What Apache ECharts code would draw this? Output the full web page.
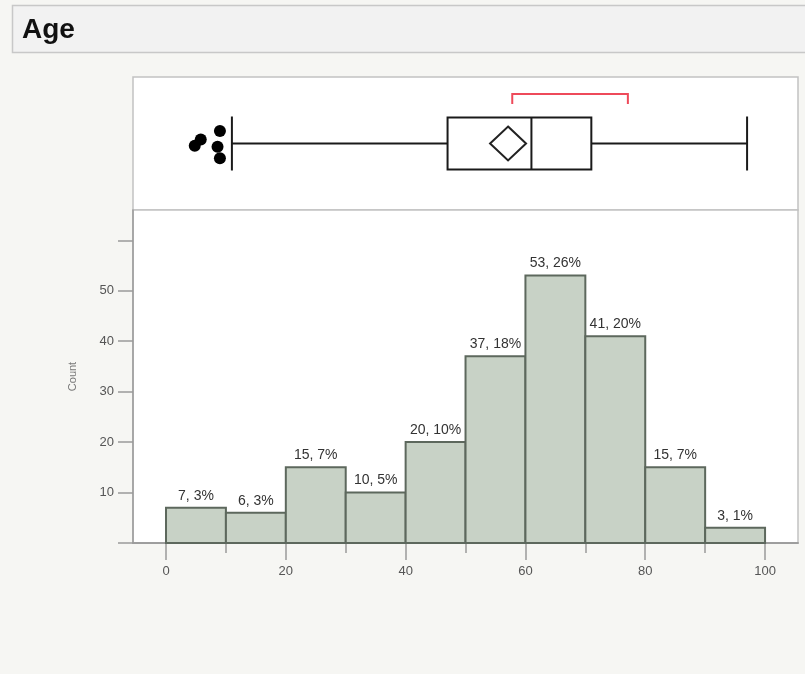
<!DOCTYPE html>
<html><head><meta charset="utf-8">
<script src="https://cdn.jsdelivr.net/npm/echarts@6/dist/echarts.min.js"></script>
<style>html,body{margin:0;padding:0;background:#f6f6f3;}#c{width:805px;height:674px;}</style>
</head><body><div id="c"></div>
<script>
// ---- data ----
const binEdges = [0, 10, 20, 30, 40, 50, 60, 70, 80, 90, 100];
const counts = [7, 6, 15, 10, 20, 37, 53, 41, 15, 3];
const percents = [3, 3, 7, 5, 10, 18, 26, 20, 7, 1];
const xTickValues = [0, 20, 40, 60, 80, 100];
const xMinorTickValues = [10, 30, 50, 70, 90];
const yTickValues = [0, 10, 20, 30, 40, 50, 60];
const yLabelValues = [10, 20, 30, 40, 50];
// box plot: lower whisker, Q1, median, Q3, upper whisker
const boxStats = [11, 47, 61, 71, 97];
const meanValue = [57.1];
const shortestHalf = [57.8, 77.1];
const outlierX = [4.8, 5.8, 8.6, 9.0, 9.0];
const outlierJitter = [0.483, 0.530, 0.476, 0.594, 0.389];
const boxRow = 0.5;

const X_MIN = -5.51, X_MAX = 105.5;
const FONT = 'Liberation Sans, Arial, sans-serif';
const NARROW = 'Liberation Sans Narrow, Arial Narrow, Liberation Sans, sans-serif';

const chart = echarts.init(document.getElementById('c'), null, {renderer: 'canvas'});

const histData = counts.map((c, i) => [binEdges[i], binEdges[i + 1], c, percents[i]]);

const option = {
  backgroundColor: '#f6f6f3',
  animation: false,
  title: {
    text: 'Age', left: 17, top: 11,
    textStyle: {fontFamily: FONT, fontSize: 28, fontWeight: 'bold', color: '#111'}
  },
  graphic: [{
    type: 'rect', z: -10, silent: true,
    shape: {x: 12.5, y: 5.5, width: 800, height: 47},
    style: {fill: '#f2f2f2', stroke: '#c8c8c8', lineWidth: 1.5}
  }],
  grid: [
    {left: 133, right: 7, top: 77, height: 133, show: true, backgroundColor: '#ffffff', borderColor: '#c2c2c2', borderWidth: 1.5},
    {left: 133, right: 7, top: 210, height: 333, show: true, backgroundColor: '#ffffff', borderColor: '#c2c2c2', borderWidth: 1.5}
  ],
  xAxis: [
    {gridIndex: 0, type: 'value', min: X_MIN, max: X_MAX, show: false},
    {gridIndex: 1, type: 'value', position: 'bottom', min: X_MIN, max: X_MAX,
      axisLine: {show: true, onZero: false, lineStyle: {color: '#9a9a9a', width: 1.5}},
      axisTick: {show: true, customValues: xTickValues, length: 17, lineStyle: {color: '#9a9a9a', width: 1.5}},
      axisLabel: {show: true, customValues: xTickValues, margin: 22, fontFamily: NARROW, fontSize: 13, color: '#555'},
      splitLine: {show: false}},
    {gridIndex: 1, type: 'value', position: 'bottom', min: X_MIN, max: X_MAX,
      axisLine: {show: true, onZero: false, lineStyle: {color: '#9a9a9a', width: 1.5}},
      axisTick: {show: true, customValues: xMinorTickValues, length: 10, lineStyle: {color: '#9a9a9a', width: 1.5}},
      axisLabel: {show: false},
      splitLine: {show: false}}
  ],
  yAxis: [
    {gridIndex: 0, type: 'value', min: 0, max: 1, show: false},
    {gridIndex: 1, type: 'value', position: 'left', min: 0, max: 66,
      name: 'Count', nameLocation: 'middle', nameGap: 55, nameRotate: 90,
      nameTextStyle: {fontFamily: FONT, fontSize: 11, color: '#777'},
      axisLine: {show: true, onZero: false, lineStyle: {color: '#9a9a9a', width: 1.5}},
      axisTick: {show: true, customValues: yTickValues, length: 15, lineStyle: {color: '#9a9a9a', width: 1.5}},
      axisLabel: {show: true, customValues: yLabelValues, margin: 19, fontFamily: NARROW, fontSize: 13, color: '#555'},
      splitLine: {show: false}}
  ],
  series: [
    {
      type: 'custom', xAxisIndex: 1, yAxisIndex: 1, data: histData,
      renderItem: function (params, api) {
        const p0 = api.coord([api.value(0), 0]);
        const p1 = api.coord([api.value(1), api.value(2)]);
        return {
          type: 'group',
          children: [
            {type: 'rect', shape: {x: p0[0], y: p1[1], width: p1[0] - p0[0], height: p0[1] - p1[1]},
              style: {fill: '#c8d2c6', stroke: '#5d685d', lineWidth: 2}},
            {type: 'text', x: (p0[0] + p1[0]) / 2, y: p1[1] - 5,
              style: {text: api.value(2) + ', ' + api.value(3) + '%', fill: '#333', font: '14px ' + FONT,
                align: 'center', verticalAlign: 'bottom'}}
          ]
        };
      }
    },
    {
      type: 'custom', xAxisIndex: 0, yAxisIndex: 0, data: [boxStats.concat([boxRow])],
      renderItem: function (params, api) {
        const y = api.value(5);
        const lo = api.coord([api.value(0), y]);
        const q1 = api.coord([api.value(1), y]);
        const md = api.coord([api.value(2), y]);
        const q3 = api.coord([api.value(3), y]);
        const hi = api.coord([api.value(4), y]);
        const cy = lo[1], h = 26, cap = 27;
        const st = {stroke: '#1a1a1a', lineWidth: 2, fill: null};
        return {
          type: 'group',
          children: [
            {type: 'line', shape: {x1: lo[0], y1: cy, x2: q1[0], y2: cy}, style: st},
            {type: 'line', shape: {x1: q3[0], y1: cy, x2: hi[0], y2: cy}, style: st},
            {type: 'line', shape: {x1: lo[0], y1: cy - cap, x2: lo[0], y2: cy + cap}, style: st},
            {type: 'line', shape: {x1: hi[0], y1: cy - cap, x2: hi[0], y2: cy + cap}, style: st},
            {type: 'rect', shape: {x: q1[0], y: cy - h, width: q3[0] - q1[0], height: 2 * h},
              style: {stroke: '#1a1a1a', lineWidth: 2, fill: '#fff'}},
            {type: 'line', shape: {x1: md[0], y1: cy - h, x2: md[0], y2: cy + h}, style: st}
          ]
        };
      }
    },
    {
      type: 'scatter', xAxisIndex: 0, yAxisIndex: 0,
      data: meanValue.map(v => [v, boxRow]),
      symbol: 'diamond', symbolSize: [36, 34],
      itemStyle: {color: 'rgba(255,255,255,0)', borderColor: '#222', borderWidth: 2, opacity: 1},
      z: 5
    },
    {
      type: 'scatter', xAxisIndex: 0, yAxisIndex: 0,
      data: outlierX.map((v, i) => [v, outlierJitter[i]]),
      symbol: 'circle', symbolSize: 12,
      itemStyle: {color: '#000', opacity: 1}
    },
    {
      type: 'custom', xAxisIndex: 0, yAxisIndex: 0, data: [shortestHalf.concat([boxRow])],
      renderItem: function (params, api) {
        const a = api.coord([api.value(0), api.value(2)]);
        const b = api.coord([api.value(1), api.value(2)]);
        const top = a[1] - 49.5, bot = a[1] - 39.5;
        return {
          type: 'polyline',
          shape: {points: [[a[0], bot], [a[0], top], [b[0], top], [b[0], bot]]},
          style: {stroke: '#ee4a5a', lineWidth: 2, fill: null}
        };
      }
    }
  ]
};
chart.setOption(option);
</script>
</body></html>
